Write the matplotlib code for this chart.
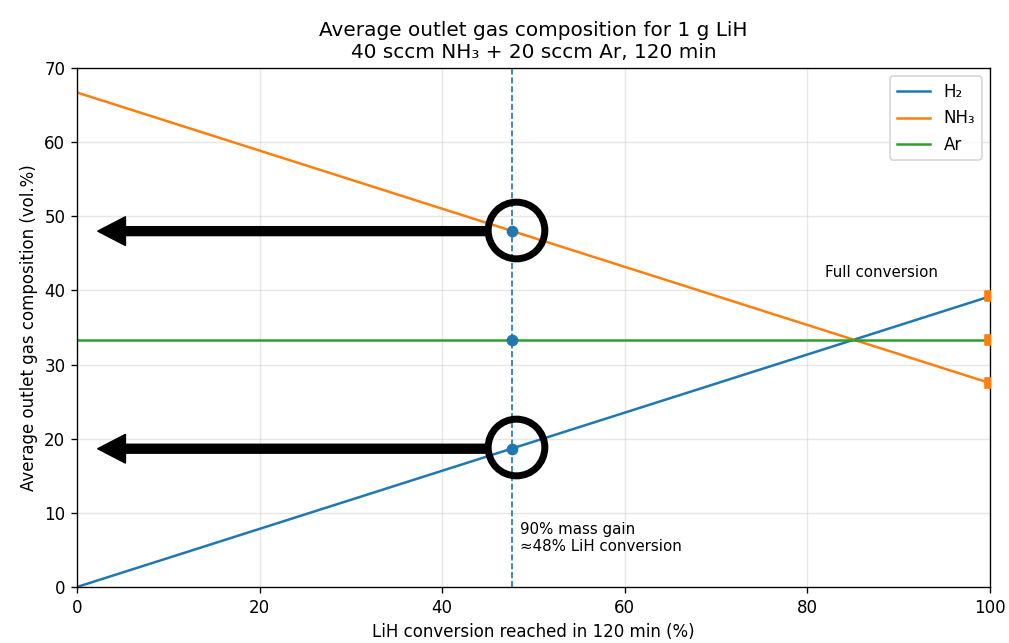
import numpy as np
import matplotlib
matplotlib.use('Agg')
import matplotlib.pyplot as plt

# LiH conversion (%) and average outlet composition (vol.%)
conversion = [0, 100]
h2 = [0.0, 39.2]
nh3 = [66.7, 27.5]
ar = [33.3, 33.3]

# 90 % mass gain point
conv_point = 47.6
h2_point = 18.65
nh3_point = 48.0
ar_point = 33.3

fig = plt.figure(figsize=(1009 / 120, 643 / 120), dpi=120)
ax = fig.add_axes([0.0763, 0.0871, 0.9049, 0.8071])

ax.plot(conversion, h2, color='C0', label='H₂')
ax.plot(conversion, nh3, color='C1', label='NH₃')
ax.plot(conversion, ar, color='C2', label='Ar')

ax.axvline(conv_point, color='C0', ls='--', lw=1)
ax.scatter([conv_point] * 3, [h2_point, nh3_point, ar_point], color='C0', zorder=3)
ax.scatter([conversion[1]] * 3, [h2[1], nh3[1], ar[1]], marker='s', color='C1', s=30, zorder=3)

ax.text(conv_point + 0.9, 4.8, '90% mass gain\n≈48% LiH conversion', fontsize=9)
ax.text(81.9, 41.8, 'Full conversion', fontsize=9)

# highlight circles and arrows
for yv in [nh3_point, h2_point]:
    ax.plot(conv_point + 0.5, yv + 0.2, marker='o', ms=34, mfc='none', mec='k', mew=4.2, zorder=4)
    ax.annotate('', xy=(2.3, yv), xytext=(conv_point - 2.6, yv),
                arrowprops=dict(arrowstyle='simple,head_length=0.82,head_width=0.85,tail_width=0.26',
                                color='k', mutation_scale=20, shrinkA=0, shrinkB=0), zorder=4)

ax.set_xlim(0, 100)
ax.set_ylim(0, 70)
ax.grid(True, alpha=0.3)
ax.set_xlabel('LiH conversion reached in 120 min (%)')
ax.set_ylabel('Average outlet gas composition (vol.%)')
ax.set_title('Average outlet gas composition for 1 g LiH\n40 sccm NH₃ + 20 sccm Ar, 120 min')
ax.legend(loc='upper right')

fig.savefig('out.png', dpi=120)
